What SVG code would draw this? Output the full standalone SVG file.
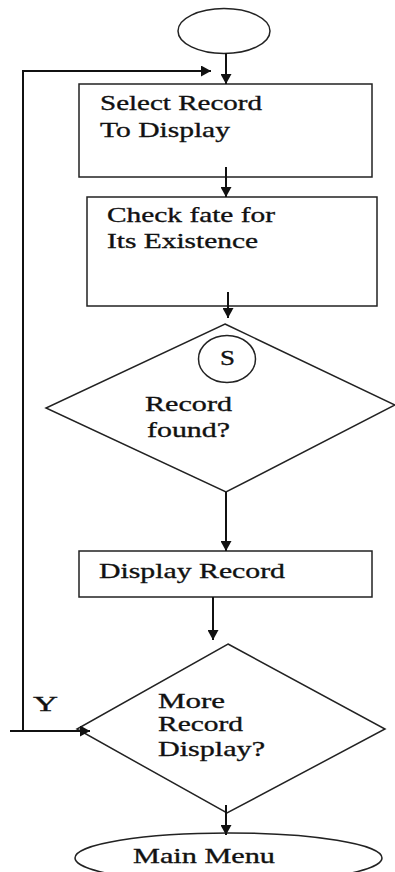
<svg xmlns="http://www.w3.org/2000/svg" width="395" height="872" viewBox="0 0 395 872">
<style>
.shape{fill:#fff;stroke:#222;stroke-width:1.5}
.conn{fill:none;stroke:#111;stroke-width:2}
text{font-family:'Liberation Serif','DejaVu Serif','Times New Roman',serif;font-size:22px;fill:#111;stroke:#111;stroke-width:0.35}
</style>
<defs>
<marker id="ah" markerUnits="userSpaceOnUse" markerWidth="11" markerHeight="11" refX="10" refY="5.5" orient="auto">
<path d="M0,0 L10,5.5 L0,11 z" fill="#111"/>
</marker>
</defs>
<rect width="395" height="872" fill="#fff"/>
<g id="start"><ellipse class="shape" cx="224" cy="31" rx="46" ry="22.5"/></g>
<g id="select">
<rect class="shape" x="79" y="84" width="293" height="93"/>
<text x="100" y="110" textLength="162" lengthAdjust="spacingAndGlyphs">Select Record</text>
<text x="100" y="137" textLength="130" lengthAdjust="spacingAndGlyphs">To Display</text>
</g>
<g id="check">
<rect class="shape" x="87" y="197" width="290" height="109"/>
<text x="107" y="222" textLength="168" lengthAdjust="spacingAndGlyphs">Check fate for</text>
<text x="107" y="248" textLength="151" lengthAdjust="spacingAndGlyphs">Its Existence</text>
</g>
<g id="found">
<polygon class="shape" points="225,324 395,405 226,492 46,408"/>
<ellipse class="shape" cx="227" cy="359" rx="28.5" ry="23.5"/>
<text x="220" y="365" textLength="15" lengthAdjust="spacingAndGlyphs">S</text>
<text x="145" y="411" textLength="87" lengthAdjust="spacingAndGlyphs">Record</text>
<text x="147" y="437" textLength="83" lengthAdjust="spacingAndGlyphs">found?</text>
</g>
<g id="display">
<rect class="shape" x="79" y="551" width="293" height="46"/>
<text x="99" y="578" textLength="186" lengthAdjust="spacingAndGlyphs">Display Record</text>
</g>
<g id="more">
<polygon class="shape" points="228,644 385,729 227,813 77,729"/>
<text x="158" y="708" textLength="67" lengthAdjust="spacingAndGlyphs">More</text>
<text x="158" y="731" textLength="85" lengthAdjust="spacingAndGlyphs">Record</text>
<text x="158" y="756" textLength="107" lengthAdjust="spacingAndGlyphs">Display?</text>
</g>
<g id="mainmenu">
<ellipse class="shape" cx="228.5" cy="858" rx="153.5" ry="25"/>
<text x="133" y="863" textLength="142" lengthAdjust="spacingAndGlyphs">Main Menu</text>
</g>
<g id="connectors">
<path class="conn" d="M226,53 L226,84" marker-end="url(#ah)"/>
<path class="conn" d="M226,167 L226,197" marker-end="url(#ah)"/>
<path class="conn" d="M228,292 L228,318" marker-end="url(#ah)"/>
<path class="conn" d="M226,492 L226,551" marker-end="url(#ah)"/>
<path class="conn" d="M213,597 L213,640" marker-end="url(#ah)"/>
<path class="conn" d="M226,805 L226,835" marker-end="url(#ah)"/>
<path class="conn" d="M10,731 L90,731" marker-end="url(#ah)"/>
<path class="conn" d="M23,731 L23,71 L211,71" marker-end="url(#ah)"/>
<text x="33" y="711" textLength="25" lengthAdjust="spacingAndGlyphs">Y</text>
</g>
</svg>
